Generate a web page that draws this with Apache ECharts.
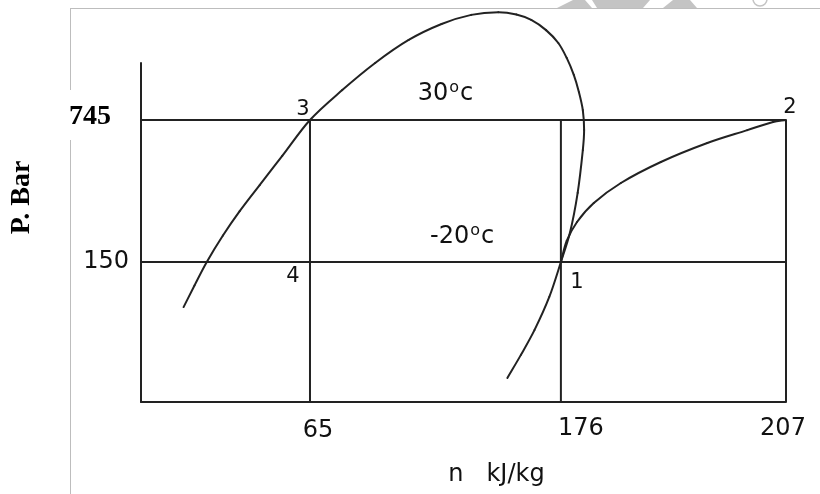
<!DOCTYPE html>
<html lang="en">
<head>
    <meta charset="UTF-8" />
    <title>P-h diagram</title>
    <script src="https://cdn.jsdelivr.net/npm/echarts@6.0.0/dist/echarts.min.js"></script>
    <style>
        html, body { margin: 0; padding: 0; background: #fff; }
        #main1 { width: 820px; height: 494px; }
    </style>
</head>
<body>
<div id="main1"></div>
<script>
    // schematic units, not to scale: h runs 0..100 along the axis, p runs 0..100 up the axis
    var hTickPos = [26.2, 65.1, 100];
    var hTickLabels = ['65', '176', '207'];
    var pTickPos = [41.3, 83.2];
    var pTickLabels = ['150', '745'];

    // saturation dome, liquid side -> vapour side
    var domeH = [6.6, 8.3, 10.2, 12.7, 15.3, 18.4, 21.9, 26.2, 31.2, 36.3, 41.5, 46.6, 51.2, 55.4, 58.2, 60.5, 62.8, 64.7, 66.0, 67.1, 67.9, 68.5, 68.7, 68.5, 67.7, 66.5, 65.1, 63.3, 61.0, 58.9, 56.8];
    var domeP = [28.0, 34.4, 41.3, 49.1, 56.3, 64.0, 72.6, 83.2, 92.0, 100.0, 106.8, 111.5, 114.2, 115.0, 114.3, 112.7, 109.7, 105.9, 101.5, 96.5, 91.4, 86.1, 80.2, 74.3, 61.7, 49.9, 41.3, 31.0, 21.2, 13.9, 7.1];

    // compression 1 -> 2
    var compH = [65.1, 66.0, 67.6, 70.2, 74.4, 80.6, 87.8, 94.0, 98.0, 100];
    var compP = [41.3, 47.5, 53.1, 58.7, 64.6, 70.8, 76.4, 80.2, 82.6, 83.2];

    // cycle state points
    var stateNames = ['1', '2', '3', '4'];
    var stateH = [65.1, 100, 26.2, 26.2];
    var stateP = [41.3, 83.2, 83.2, 41.3];

    // isotherm labels
    var tempNames = ['30', '-20'];
    var tempH = [47.2, 49.8];
    var tempP = [91.2, 49.0];

    var ink = '#222';
    var txt = '#111';
    var sans = 'DejaVu Sans';
    var serif = 'Liberation Serif';

    var hMax = 100, pTop = Math.max.apply(null, pTickPos);
    var stateOffsets = { '1': [16, 21], '2': [4, -12], '3': [-7, -10], '4': [-17, 15] };

    function pairs(a, b) {
        return a.map(function (v, i) { return [v, b[i]]; });
    }
    function dist(a, b) {
        return Math.sqrt((a[0] - b[0]) * (a[0] - b[0]) + (a[1] - b[1]) * (a[1] - b[1]));
    }
    // smooth curve through the read points, one bezier piece per point
    function curve(hs, ps) {
        var n = hs.length;
        return {
            type: 'custom', data: pairs(hs, ps), silent: true, clip: false, z: 3,
            renderItem: function (params, api) {
                var i = params.dataIndex;
                if (i >= n - 1) return null;
                var pt = function (k) {
                    k = Math.max(0, Math.min(n - 1, k));
                    return api.coord([hs[k], ps[k]]);
                };
                var p0 = pt(i - 1), p1 = pt(i), p2 = pt(i + 1), p3 = pt(i + 2);
                var d01 = dist(p0, p1), d12 = dist(p1, p2), d23 = dist(p2, p3);
                var k1 = d12 / (d01 + d12) / 3, k2 = d12 / (d12 + d23) / 3;
                return {
                    type: 'bezierCurve',
                    shape: {
                        x1: p1[0], y1: p1[1], x2: p2[0], y2: p2[1],
                        cpx1: p1[0] + (p2[0] - p0[0]) * k1, cpy1: p1[1] + (p2[1] - p0[1]) * k1,
                        cpx2: p2[0] - (p3[0] - p1[0]) * k2, cpy2: p2[1] - (p3[1] - p1[1]) * k2
                    },
                    style: { stroke: ink, lineWidth: 2, fill: null, lineCap: 'round' }
                };
            }
        };
    }
    function seg(data) {
        return { type: 'line', data: data, symbol: 'none', silent: true,
                 lineStyle: { color: ink, width: 2 }, z: 2 };
    }
    function pick(list, labels, v) {
        var best = 0;
        list.forEach(function (p, i) { if (Math.abs(p - v) < Math.abs(list[best] - v)) best = i; });
        return labels[best];
    }

    var series = [];
    series.push(curve(domeH, domeP));
    series.push(curve(compH, compP));
    pTickPos.forEach(function (p) { series.push(seg([[0, p], [hMax, p]])); });
    hTickPos.forEach(function (h) { series.push(seg([[h, 0], [h, pTop]])); });

    series.push({
        type: 'scatter', symbolSize: 1, itemStyle: { color: 'rgba(0,0,0,0)', opacity: 1 }, silent: true, z: 5,
        data: stateNames.map(function (n, i) {
            return { name: n, value: [stateH[i], stateP[i]], label: { offset: stateOffsets[n] } };
        }),
        label: { show: true, position: [0.5, 0.5], align: 'center', verticalAlign: 'middle',
                 formatter: '{b}', color: txt, fontFamily: sans, fontSize: 21 }
    });
    series.push({
        type: 'scatter', symbolSize: 1, itemStyle: { color: 'rgba(0,0,0,0)', opacity: 1 }, silent: true, z: 5,
        data: tempNames.map(function (n, i) { return { name: n, value: [tempH[i], tempP[i]] }; }),
        label: {
            show: true, position: [0.5, 0.5], align: 'center', verticalAlign: 'middle',
            formatter: function (p) { return '{n|' + p.name + '}{s|o}{n|c}'; },
            rich: {
                n: { color: txt, fontFamily: sans, fontSize: 24, lineHeight: 26, verticalAlign: 'bottom' },
                s: { color: txt, fontFamily: sans, fontSize: 16, lineHeight: 16, padding: [0, 1, 10, 1],
                     verticalAlign: 'bottom' }
            }
        }
    });

    var myChart1 = echarts.init(document.getElementById('main1'));
    var option = {
        animation: false,
        backgroundColor: '#fff',
        grid: { left: 138, right: 34, top: 63, bottom: 92 },
        xAxis: {
            type: 'value', min: 0, max: hMax,
            name: 'n   kJ/kg', nameLocation: 'middle', nameGap: 61,
            nameTextStyle: { color: txt, fontFamily: sans, fontSize: 24, padding: [0, 0, 0, 66] },
            axisLine: { show: true, lineStyle: { color: ink, width: 2 } },
            axisTick: { show: false },
            splitLine: { show: false },
            axisLabel: {
                customValues: hTickPos, margin: 15,
                formatter: function (v) {
                    var s = pick(hTickPos, hTickLabels, v);
                    return '{t' + hTickLabels.indexOf(s) + '|' + s + '}';
                },
                rich: {
                    t0: { color: txt, fontFamily: sans, fontSize: 24, padding: [2, 0, 0, 16] },
                    t1: { color: txt, fontFamily: sans, fontSize: 24, padding: [0, 0, 0, 40] },
                    t2: { color: txt, fontFamily: sans, fontSize: 24, padding: [0, 6, 0, 0] }
                }
            }
        },
        yAxis: {
            type: 'value', min: 0, max: 100,
            name: 'P. Bar', nameLocation: 'middle', nameRotate: 90, nameGap: 105,
            nameTextStyle: { color: '#000', fontFamily: serif, fontWeight: 'bold', fontSize: 28,
                             padding: [0, 0, 0, 70] },
            axisLine: { show: true, lineStyle: { color: ink, width: 2 } },
            axisTick: { show: false },
            splitLine: { show: false },
            axisLabel: {
                customValues: pTickPos, margin: 10,
                formatter: function (v) {
                    var s = pick(pTickPos, pTickLabels, v);
                    return (s === '745' ? '{b|' : '{n|') + s + '}';
                },
                rich: {
                    n: { color: txt, fontFamily: sans, fontSize: 24, padding: [0, 2, 0, 0] },
                    b: { color: '#000', fontFamily: serif, fontWeight: 'bold', fontSize: 28,
                         padding: [0, 20, 6, 0] }
                }
            }
        },
        graphic: [
            { type: 'line', silent: true, z: -1, shape: { x1: 70.5, y1: 8, x2: 70.5, y2: 90 }, style: { stroke: '#bdbdbd', lineWidth: 1 } },
            { type: 'line', silent: true, z: -1, shape: { x1: 70.5, y1: 140, x2: 70.5, y2: 494 }, style: { stroke: '#bdbdbd', lineWidth: 1 } },
            { type: 'line', silent: true, z: -1, shape: { x1: 70, y1: 8.5, x2: 820, y2: 8.5 }, style: { stroke: '#bdbdbd', lineWidth: 1 } },
            { type: 'polygon', silent: true, z: -1, shape: { points: [[557, 8], [573, 0], [585, 0], [592, 8]] }, style: { fill: '#c4c4c4' } },
            { type: 'polygon', silent: true, z: -1, shape: { points: [[597, 8], [592, 0], [650, 0], [643, 8]] }, style: { fill: '#c4c4c4' } },
            { type: 'polygon', silent: true, z: -1, shape: { points: [[663, 8], [673, 0], [690, 0], [697, 8]] }, style: { fill: '#c4c4c4' } },
            { type: 'circle', silent: true, z: -1, shape: { cx: 760, cy: -1, r: 7 }, style: { fill: 'none', stroke: '#c4c4c4', lineWidth: 1.5 } }
        ],
        series: series
    };
    myChart1.setOption(option);
</script>
</body>
</html>
